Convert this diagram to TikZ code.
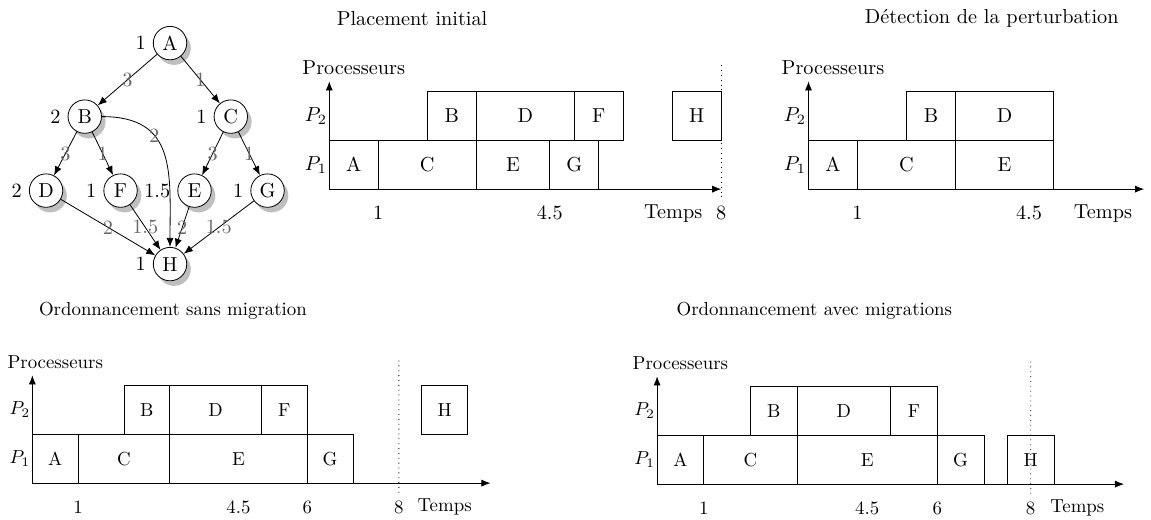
\documentclass[tikz,border=0pt]{standalone}
\usepackage{tikz}
\usetikzlibrary{shadows,arrows.meta}
\def\tache(#1,#2)#3#4{\draw (#1,#2) rectangle node (#4) {#4} ++(#3,1);}
\def\repere#1#2{%
  \draw[-{Latex[length=4.5pt,width=3.5pt]}] (0,0) -- (#1,0);
  \draw[-{Latex[length=4.5pt,width=3.5pt]}] (0,0) -- (0,2.2);
  \node (proc) at (0.5,2.47) {Processeurs};
  \node[anchor=east,inner sep=1pt] (p1) at (0,0.5) {$P_1$};
  \node[anchor=east,inner sep=1pt] (p2) at (0,1.5) {$P_2$};
  \node (temps) at (#2,-0.49) {Temps};}

\begin{document}
\begin{tikzpicture}[x=0.85cm,y=0.85cm,
    sommet/.style={circle,draw,fill=white,minimum size=16.5pt,inner sep=0pt,
      drop shadow={shadow xshift=2pt,shadow yshift=-2.5pt,fill=black!25,opacity=1}},
    dep/.style={-{Latex[length=4.5pt,width=3.5pt]}},
    poids/.style={text=black!60}]
\useasboundingbox (0,0) rectangle (23.49,10.61);

% graphe de taches
\node[sommet,label=left:1] (A) at (3.47,9.73) {A};
\node[sommet,label=left:2] (B) at (1.73,8.23) {B};
\node[sommet,label=left:1] (C) at (4.71,8.23) {C};
\node[sommet,label=left:2] (D) at (0.94,6.72) {D};
\node[sommet,label=left:1] (F) at (2.46,6.72) {F};
\node[sommet,label=left:1.5] (E) at (3.97,6.72) {E};
\node[sommet,label=left:1] (G) at (5.46,6.72) {G};
\node[sommet,label=left:1] (H) at (3.47,5.22) {H};
\draw[dep] (A) -- node[poids] {3} (B);
\draw[dep] (A) -- node[poids] {1} (C);
\draw[dep] (B) -- node[poids] {3} (D);
\draw[dep] (B) -- node[poids] {1} (F);
\draw[dep] (C) -- node[poids] {3} (E);
\draw[dep] (C) -- node[poids] {1} (G);
\draw[dep] (D) -- node[poids] {2} (H);
\draw[dep] (F) -- node[poids] {1.5} (H);
\draw[dep] (E) -- node[poids] {2} (H);
\draw[dep] (G) -- node[poids] {1.5} (H);
\draw[dep] (B.east) to[out=0,in=90,looseness=1.3] node[pos=0.35,poids] {2} (H);

% placement initial
\node (titre1) at (8.41,10.24) {Placement initial};
\begin{scope}[shift={(6.72,6.75)},name prefix=ini-]
  \repere{8}{7.02}
  \tache(0,0){1}{A} \tache(1,0){2}{C} \tache(3,0){1.5}{E} \tache(4.5,0){1}{G}
  \tache(2,1){1}{B} \tache(3,1){2}{D} \tache(5,1){1}{F} \tache(7,1){1}{H}
  \node (un) at (1,-0.49) {1};
  \node (quatre) at (4.5,-0.49) {4.5};
  \node (huit) at (8,-0.49) {8};
  \draw[dotted] (8,2.53) -- (huit.north);
\end{scope}

% detection
\node (titre2) at (20.24,10.24) {Détection de la perturbation};
\begin{scope}[shift={(16.5,6.75)},name prefix=det-]
  \repere{6.85}{6.01}
  \tache(0,0){1}{A} \tache(1,0){2}{C} \tache(3,0){2}{E}
  \tache(2,1){1}{B} \tache(3,1){2}{D}
  \node (un) at (1,-0.49) {1};
  \node (quatre) at (4.5,-0.49) {4.5};
\end{scope}

% sans migration
\node[scale=0.93] (titre3) at (3.53,4.27) {Ordonnancement sans migration};
\begin{scope}[shift={(0.66,0.75)},xscale=0.935,name prefix=sans-,
    every node/.append style={scale=0.93}]
  \repere{10}{9}
  \tache(0,0){1}{A} \tache(1,0){2}{C} \tache(3,0){3}{E} \tache(6,0){1}{G}
  \tache(2,1){1}{B} \tache(3,1){2}{D} \tache(5,1){1}{F} \tache(8.5,1){1}{H}
  \node (un) at (1,-0.49) {1};
  \node (quatre) at (4.5,-0.49) {4.5};
  \node (six) at (6,-0.49) {6};
  \node (huit) at (8,-0.49) {8};
  \draw[dotted] (8,2.5) -- (huit.north);
\end{scope}

% avec migrations
\node[scale=0.93] (titre4) at (16.62,4.27) {Ordonnancement avec migrations};
\begin{scope}[shift={(13.41,0.73)},xscale=0.953,name prefix=avec-,
    every node/.append style={scale=0.93}]
  \repere{10}{9}
  \tache(0,0){1}{A} \tache(1,0){2}{C} \tache(3,0){3}{E} \tache(6,0){1}{G} \tache(7.5,0){1}{H}
  \tache(2,1){1}{B} \tache(3,1){2}{D} \tache(5,1){1}{F}
  \node (un) at (1,-0.49) {1};
  \node (quatre) at (4.5,-0.49) {4.5};
  \node (six) at (6,-0.49) {6};
  \node (huit) at (8,-0.49) {8};
  \draw[dotted] (8,2.5) -- (huit.north);
\end{scope}
\end{tikzpicture}
\end{document}
